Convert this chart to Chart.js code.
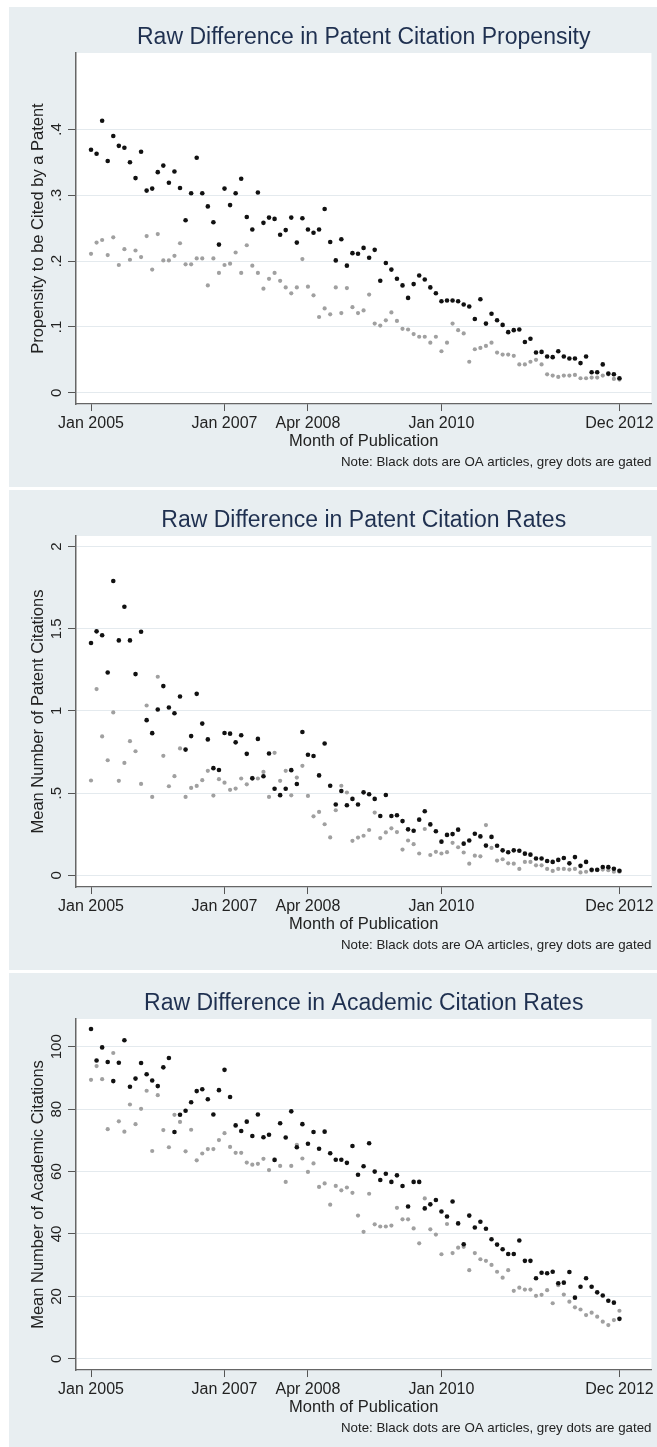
<!DOCTYPE html>
<html><head><meta charset="utf-8">
<script src="https://cdn.jsdelivr.net/npm/chart.js@4.4.1/dist/chart.umd.min.js"></script>
<style>
html,body{margin:0;padding:0;background:#ffffff;width:657px;height:1447px;overflow:hidden;}
.panel{position:absolute;left:9px;width:648px;height:480px;background:#e8eef1;}
canvas{display:block;}
</style></head><body>
<div class="panel" style="top:7px"><canvas id="c1" width="648" height="480"></canvas></div>
<div class="panel" style="top:490px"><canvas id="c2" width="648" height="480"></canvas></div>
<div class="panel" style="top:973px"><canvas id="c3" width="648" height="480"></canvas></div>
<script>
// Month index (0 = Jan 2005 ... 95 = Dec 2012)
const months = [0,1,2,3,4,5,6,7,8,9,10,11,12,13,14,15,16,17,18,19,20,21,22,23,24,25,26,27,28,29,30,31,32,33,34,35,36,37,38,39,40,41,42,43,44,45,46,47,48,49,50,51,52,53,54,55,56,57,58,59,60,61,62,63,64,65,66,67,68,69,70,71,72,73,74,75,76,77,78,79,80,81,82,83,84,85,86,87,88,89,90,91,92,93,94,95];
const xTickValues = [0, 24, 39, 63, 95];
const xTickLabels = ['Jan 2005', 'Jan 2007', 'Apr 2008', 'Jan 2010', 'Dec 2012'];

// Panel 1: propensity to be cited by a patent
const oaPropensity = [0.369,0.363,0.413,0.352,0.390,0.375,0.372,0.350,0.326,0.366,
 0.307,0.310,0.335,0.345,0.319,0.336,0.311,0.262,0.303,0.357,
 0.303,0.283,0.259,0.225,0.310,0.285,0.303,0.325,0.267,0.248,
 0.304,0.258,0.266,0.264,0.240,0.247,0.266,0.228,0.265,0.248,
 0.243,0.248,0.279,0.229,0.201,0.233,0.193,0.212,0.211,0.220,
 0.205,0.217,0.170,0.197,0.187,0.173,0.163,0.144,0.165,0.178,
 0.172,0.160,0.151,0.139,0.140,0.140,0.139,0.134,0.131,0.112,
 0.142,0.105,0.120,0.110,0.103,0.092,0.095,0.096,0.077,0.082,
 0.061,0.062,0.055,0.054,0.063,0.055,0.052,0.052,0.045,0.055,
 0.031,0.031,0.043,0.029,0.028,0.022];
const gatedPropensity = [0.211,0.228,0.232,0.209,0.236,0.194,0.218,0.202,0.216,0.206,
 0.238,0.187,0.241,0.201,0.201,0.208,0.227,0.195,0.195,0.204,
 0.204,0.163,0.204,0.182,0.194,0.196,0.213,0.182,0.224,0.193,
 0.182,0.158,0.173,0.182,0.170,0.160,0.151,0.160,0.203,0.161,
 0.148,0.115,0.128,0.119,0.160,0.121,0.159,0.130,0.121,0.125,
 0.149,0.105,0.102,0.110,0.122,0.109,0.097,0.096,0.089,0.085,
 0.085,0.076,0.085,0.063,0.076,0.105,0.095,0.090,0.047,0.066,
 0.068,0.071,0.076,0.061,0.058,0.058,0.056,0.043,0.043,0.047,
 0.050,0.043,0.028,0.026,0.024,0.026,0.026,0.027,0.022,0.022,
 0.023,0.023,0.026,0.028,0.021,0.020];
const yTicks1 = [0, 0.1, 0.2, 0.3, 0.4];
const yLabels1 = ['0', '.1', '.2', '.3', '.4'];

// Panel 2: mean number of patent citations
const oaPatentRate = [1.413,1.484,1.460,1.234,1.790,1.429,1.634,1.429,1.224,1.482,
 0.944,0.865,1.009,1.151,1.021,0.986,1.088,0.765,0.847,1.104,
 0.923,0.827,0.652,0.641,0.866,0.862,0.809,0.852,0.739,0.590,
 0.830,0.603,0.741,0.527,0.488,0.527,0.640,0.556,0.872,0.734,
 0.726,0.608,0.802,0.545,0.431,0.513,0.426,0.465,0.431,0.505,
 0.493,0.465,0.361,0.489,0.361,0.366,0.330,0.280,0.271,0.339,
 0.390,0.310,0.268,0.205,0.246,0.251,0.278,0.193,0.212,0.253,
 0.237,0.181,0.234,0.180,0.152,0.141,0.152,0.150,0.132,0.126,
 0.103,0.103,0.087,0.082,0.094,0.106,0.073,0.111,0.058,0.082,
 0.034,0.034,0.051,0.050,0.040,0.028];
const gatedPatentRate = [0.577,1.133,0.845,0.700,0.991,0.575,0.684,0.816,0.755,0.556,
 1.033,0.477,1.208,0.727,0.542,0.603,0.772,0.477,0.532,0.544,
 0.579,0.636,0.485,0.585,0.564,0.520,0.528,0.589,0.554,0.593,
 0.589,0.629,0.477,0.745,0.575,0.636,0.487,0.595,0.666,0.483,
 0.359,0.386,0.311,0.231,0.396,0.545,0.504,0.210,0.230,0.241,
 0.276,0.382,0.227,0.261,0.286,0.263,0.157,0.212,0.190,0.133,
 0.282,0.124,0.143,0.133,0.141,0.198,0.171,0.139,0.071,0.120,
 0.116,0.306,0.167,0.090,0.098,0.073,0.071,0.039,0.082,0.082,
 0.061,0.061,0.039,0.027,0.039,0.039,0.035,0.039,0.018,0.022,
 0.029,0.031,0.035,0.031,0.022,0.022];
const yTicks2 = [0, 0.5, 1, 1.5, 2];
const yLabels2 = ['0', '.5', '1', '1.5', '2'];

// Panel 3: mean number of academic citations
const oaAcademic = [105.7,95.6,99.8,95.1,89.0,94.9,102.1,87.2,89.8,94.8,
 91.2,89.2,87.4,93.4,96.4,72.7,78.2,79.5,82.2,85.8,
 86.4,83.2,78.3,86.1,92.6,83.9,74.8,73.0,76.0,71.4,
 78.3,71.0,71.8,63.7,75.5,70.9,79.3,67.8,75.2,68.9,
 72.7,67.3,72.8,65.9,63.8,63.8,62.8,68.2,59.0,61.7,
 69.1,60.0,57.3,59.3,56.7,58.8,55.4,48.8,56.7,56.7,
 48.2,49.5,50.9,47.2,45.6,50.4,43.4,36.7,45.9,42.1,
 43.9,41.7,38.3,36.6,35.1,33.6,33.6,37.9,31.4,31.4,
 25.8,27.6,27.4,27.9,24.2,24.4,27.8,19.6,23.1,25.8,
 23.1,21.3,20.3,18.6,18.0,12.8];
const gatedAcademic = [89.4,93.8,89.6,73.6,98.0,76.1,72.8,81.5,75.2,80.1,
 85.9,66.6,84.5,73.3,67.8,78.2,75.9,66.5,73.4,63.6,
 65.8,67.2,67.2,70.1,72.3,67.9,66.0,66.0,62.9,62.2,
 62.5,64.1,60.5,64.0,61.8,56.7,61.8,68.6,64.2,59.9,
 62.6,55.1,56.2,49.4,55.4,54.0,54.9,53.2,45.9,40.7,
 52.9,43.1,42.4,42.4,42.7,48.4,44.7,44.7,41.8,37.0,
 51.4,41.5,39.8,33.5,43.2,33.9,35.6,35.9,28.4,33.9,
 31.9,31.4,30.1,27.9,26.0,28.4,21.8,22.8,22.2,22.2,
 20.2,20.5,22.0,17.8,23.6,20.6,18.3,16.5,15.8,14.0,
 14.8,13.5,11.9,10.8,12.4,15.4];
const yTicks3 = [0, 20, 40, 60, 80, 100];
const yLabels3 = ['0', '20', '40', '60', '80', '100'];

const noteText = 'Note: Black dots are OA articles, grey dots are gated';
const FONT = '"Liberation Sans", Arial, Helvetica, sans-serif';
Chart.defaults.font.family = FONT;

const plotBg = {
  id: 'plotBg',
  beforeDraw(chart) {
    const {ctx, chartArea: a} = chart;
    ctx.save();
    ctx.fillStyle = '#ffffff';
    ctx.fillRect(a.left, a.top, a.right - a.left, a.bottom - a.top);
    ctx.restore();
  }
};
const rotatedYLabels = {
  id: 'rotatedYLabels',
  afterDraw(chart) {
    const s = chart.scales.y;
    const ctx = chart.ctx;
    ctx.save();
    ctx.font = '15px ' + FONT;
    ctx.fillStyle = '#222222';
    ctx.textAlign = 'center';
    ctx.textBaseline = 'middle';
    s.ticks.forEach(t => {
      const y = s.getPixelForValue(t.value);
      ctx.save();
      ctx.translate(s.right - 19, y);
      ctx.rotate(-Math.PI / 2);
      ctx.fillText(t.label, 0, 0);
      ctx.restore();
    });
    ctx.restore();
  }
};

function makeChart(id, title, yTitle, oa, gated, yMin, yMax, yTicks, yLabels) {
  new Chart(document.getElementById(id), {
    type: 'scatter',
    data: {
      datasets: [
        { label: 'OA articles', data: months.map((m, i) => ({x: m, y: oa[i]})),
          pointRadius: 2.3, pointBackgroundColor: '#111111', pointBorderWidth: 0, borderColor: '#111111' },
        { label: 'Gated articles', data: months.map((m, i) => ({x: m, y: gated[i]})),
          pointRadius: 2.1, pointBackgroundColor: '#a0a0a0', pointBorderWidth: 0, borderColor: '#a0a0a0' }
      ]
    },
    options: {
      responsive: false, animation: false, devicePixelRatio: 1,
      layout: { padding: { left: 0, right: 5, top: 0, bottom: 0 } },
      plugins: {
        legend: { display: false },
        tooltip: { enabled: false },
        title: { display: true, text: title, fullSize: false, color: '#1f3050',
                 font: { size: 23, weight: 'normal' }, padding: { top: 17, bottom: 1.4 } },
        subtitle: { display: true, text: noteText, position: 'bottom', align: 'end', fullSize: false,
                    color: '#222222', font: { size: 13.3 }, padding: { top: 3, bottom: 17 } }
      },
      scales: {
        x: {
          type: 'linear', min: -2.7, max: 100.75,
          afterBuildTicks: s => { s.ticks = xTickValues.map(v => ({ value: v })); },
          afterFit: s => { s.height = 47; },
          ticks: { callback: (v, i) => xTickLabels[i], autoSkip: false, maxRotation: 0, minRotation: 0,
                   padding: 3, font: { size: 16 }, color: '#222222' },
          grid: { display: true, drawOnChartArea: false, drawTicks: true, tickLength: 7, tickColor: '#555555' },
          border: { display: true, color: '#666666', width: 1.2 },
          title: { display: true, text: 'Month of Publication', color: '#222222',
                   font: { size: 16.5 }, padding: { top: 0, bottom: 0 } }
        },
        y: {
          type: 'linear', min: yMin, max: yMax,
          afterBuildTicks: s => { s.ticks = yTicks.map(v => ({ value: v })); },
          afterFit: s => { s.width = 67; },
          ticks: { display: false, callback: (v, i) => yLabels[i] },
          grid: { color: '#e4eaee', lineWidth: 1, drawTicks: true, tickLength: 8, tickColor: '#555555' },
          border: { display: true, color: '#666666', width: 1.5 },
          title: { display: true, text: yTitle, color: '#222222',
                   font: { size: 16.5 }, padding: { top: 20, bottom: 0 } }
        }
      }
    },
    plugins: [plotBg, rotatedYLabels]
  });
}

makeChart('c1', 'Raw Difference in Patent Citation Propensity', 'Propensity to be Cited by a Patent',
  oaPropensity, gatedPropensity, -0.0172, 0.516, yTicks1, yLabels1);
makeChart('c2', 'Raw Difference in Patent Citation Rates', 'Mean Number of Patent Citations',
  oaPatentRate, gatedPatentRate, -0.071, 2.064, yTicks2, yLabels2);
makeChart('c3', 'Raw Difference in Academic Citation Rates', 'Mean Number of Academic Citations',
  oaAcademic, gatedAcademic, -3.6, 108.9, yTicks3, yLabels3);
</script>
</body></html>
